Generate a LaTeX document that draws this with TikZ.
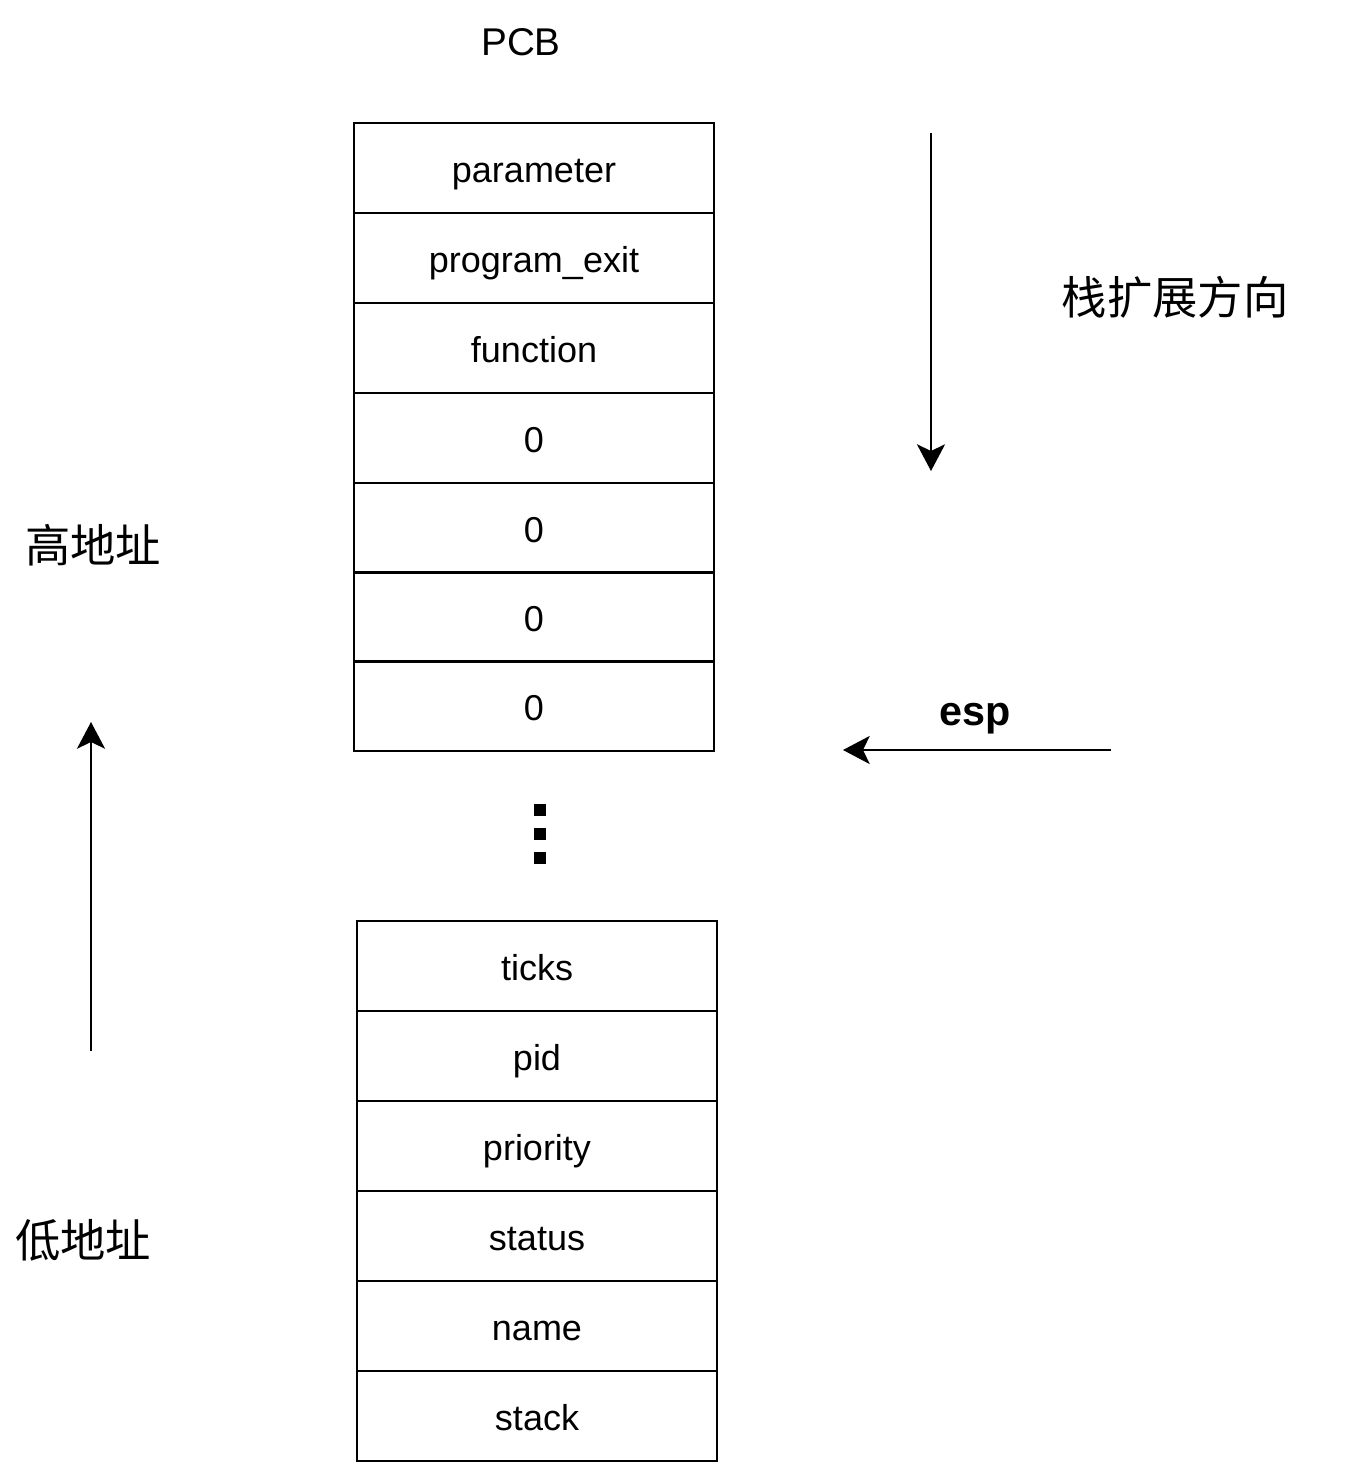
\documentclass[tikz,border=0pt]{standalone}
\usepackage{fontspec}
\setmainfont{Liberation Sans}
\newfontfamily\cjk{Noto Sans CJK SC}
\usetikzlibrary{arrows.meta}
\begin{document}
\begin{tikzpicture}[x=0.75pt,y=-0.75pt,
  cell/.style={draw,line width=2pt,minimum width=270pt,minimum height=67.5pt,inner sep=0pt,text height=26pt,text depth=4.2pt,font=\fontsize{27pt}{30pt}\selectfont},
  arr/.style={line width=1.8pt,-{Stealth[length=20pt,width=21pt,inset=5pt]}},
  cjklab/.style={font=\cjk\fontsize{34pt}{38pt}\selectfont,inner sep=0pt},
  dot/.style={fill=black,minimum size=9pt,inner sep=0pt}]
\useasboundingbox (0,0) rectangle (1353,1464);
\node[font=\fontsize{29pt}{32pt}\selectfont,anchor=base,inner sep=0pt] (pcb) at (521,55) {PCB};
% top stack
\node[cell] (c1) at (534,168) {parameter};
\node[cell] (c2) at (534,258) {program\_exit};
\node[cell] (c3) at (534,348) {function};
\node[cell] (c4) at (534,438) {0};
\node[cell] (c5) at (534,528) {0};
\node[cell] (c6) at (534,617) {0};
\node[cell] (c7) at (534,706) {0};
% dots
\node[dot] (d1) at (540,810) {};
\node[dot] (d2) at (540,834) {};
\node[dot] (d3) at (540,858) {};
% bottom stack
\node[cell] (b1) at (537,966) {ticks};
\node[cell] (b2) at (537,1056) {pid};
\node[cell] (b3) at (537,1146) {priority};
\node[cell] (b4) at (537,1236) {status};
\node[cell] (b5) at (537,1326) {name};
\node[cell] (b6) at (537,1416) {stack};
% labels
\node[cjklab] (grow) at (1175,297) {栈扩展方向};
\node[cjklab] (high) at (93,545) {高地址};
\node[cjklab] (low) at (83,1240) {低地址};
\node[font=\bfseries\fontsize{31pt}{34pt}\selectfont,anchor=base,inner sep=0pt] (esp) at (975,725) {esp};
% arrows
\coordinate (gs) at (931,133);
\coordinate (ge) at (931,471);
\draw[arr] (gs) -- (ge);
\coordinate (es) at (1111,750);
\coordinate (ee) at (843,750);
\draw[arr] (es) -- (ee);
\coordinate (us) at (91,1051);
\coordinate (ue) at (91,722);
\draw[arr] (us) -- (ue);
\end{tikzpicture}
\end{document}
